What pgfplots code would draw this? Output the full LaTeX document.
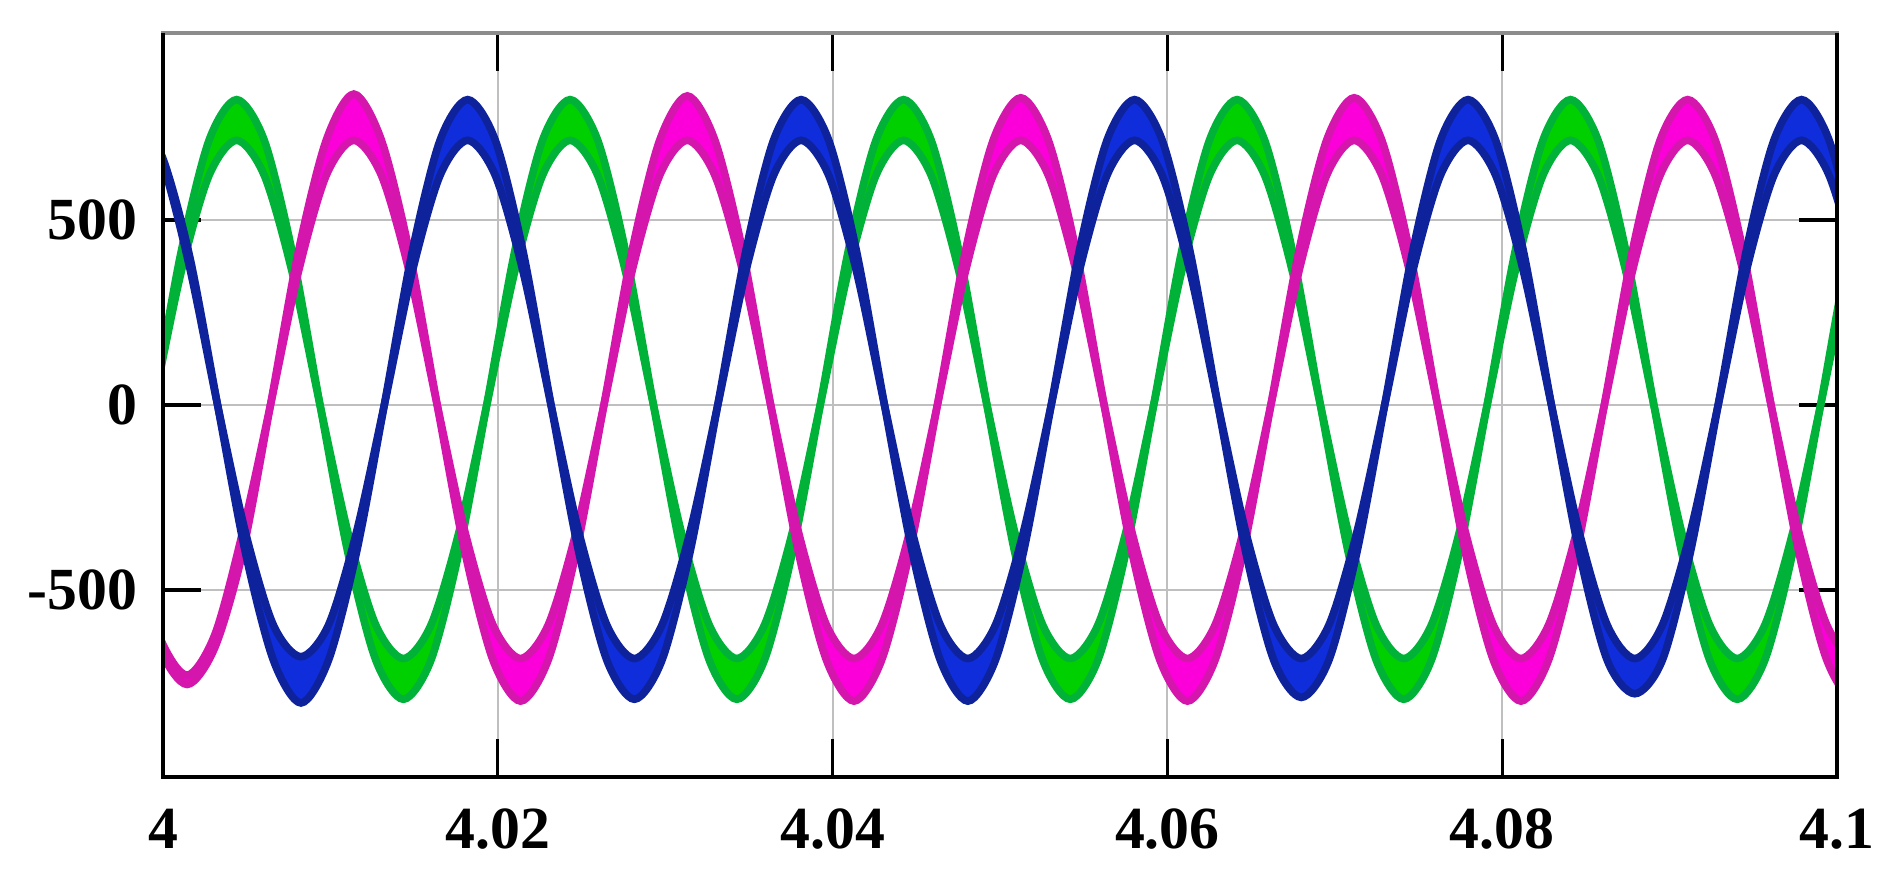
\documentclass[border=0pt]{standalone}
\usepackage{fontspec}
\setmainfont{Liberation Serif}
\usepackage{pgfplots}
\usepackage{pgfplotstable}
\pgfplotsset{compat=1.18}
\usepgfplotslibrary{fillbetween}

\definecolor{grnln}{RGB}{0,178,55}
\definecolor{grnfl}{RGB}{0,208,0}
\definecolor{magln}{RGB}{212,22,172}
\definecolor{magfl}{RGB}{252,0,218}
\definecolor{bluln}{RGB}{14,34,155}
\definecolor{blufl}{RGB}{15,45,218}

% t = time (s), a = outer edge of the noisy band, b = inner edge
\pgfplotstableread{
t a b
3.99776 -398 -343
3.99942 0 0
4.00108 413 358
4.00274 714 619
4.00440 825 715
4.00606 714 619
4.00772 413 358
4.00938 0 0
4.01104 -398 -343
4.01270 -688 -593
4.01436 -795 -685
4.01602 -688 -593
4.01768 -398 -343
4.01934 0 0
4.02100 413 358
4.02266 714 619
4.02432 825 715
4.02598 714 619
4.02764 413 358
4.02930 0 0
4.03096 -398 -343
4.03262 -688 -593
4.03428 -795 -685
4.03594 -688 -593
4.03760 -398 -343
4.03926 0 0
4.04092 413 358
4.04258 714 619
4.04424 825 715
4.04590 714 619
4.04756 413 358
4.04922 0 0
4.05088 -398 -343
4.05254 -688 -593
4.05420 -795 -685
4.05586 -688 -593
4.05752 -398 -343
4.05918 0 0
4.06084 413 358
4.06250 714 619
4.06416 825 715
4.06582 714 619
4.06748 413 358
4.06914 0 0
4.07080 -398 -343
4.07246 -688 -593
4.07412 -795 -685
4.07578 -688 -593
4.07744 -398 -343
4.07910 0 0
4.08076 413 358
4.08242 714 619
4.08408 825 715
4.08574 714 619
4.08740 413 358
4.08906 0 0
4.09072 -398 -343
4.09238 -688 -593
4.09404 -795 -685
4.09570 -688 -593
4.09736 -398 -343
4.09902 0 0
4.10068 413 358
4.10234 714 619
}\G

\pgfplotstableread{
t a b
3.99812 -398 -370
3.99978 -655 -625
4.00144 -755 -730
4.00310 -655 -620
4.00476 -398 -343
4.00642 0 0
4.00808 413 358
4.00974 714 619
4.01140 840 715
4.01306 714 619
4.01472 413 358
4.01638 0 0
4.01804 -398 -343
4.01970 -688 -593
4.02136 -800 -685
4.02302 -688 -593
4.02468 -398 -343
4.02634 0 0
4.02800 413 358
4.02966 714 619
4.03132 835 715
4.03298 714 619
4.03464 413 358
4.03630 0 0
4.03796 -398 -343
4.03962 -688 -593
4.04128 -800 -685
4.04294 -688 -593
4.04460 -398 -343
4.04626 0 0
4.04792 413 358
4.04958 714 619
4.05124 830 715
4.05290 714 619
4.05456 413 358
4.05622 0 0
4.05788 -398 -343
4.05954 -688 -593
4.06120 -800 -685
4.06286 -688 -593
4.06452 -398 -343
4.06618 0 0
4.06784 413 358
4.06950 714 619
4.07116 830 715
4.07282 714 619
4.07448 413 358
4.07614 0 0
4.07780 -398 -343
4.07946 -688 -593
4.08112 -800 -685
4.08278 -688 -593
4.08444 -398 -343
4.08610 0 0
4.08776 413 358
4.08942 714 619
4.09108 825 715
4.09274 714 619
4.09440 413 358
4.09606 0 0
4.09772 -398 -343
4.09938 -688 -593
4.10104 -795 -685
4.10270 -688 -593
}\M

\pgfplotstableread{
t a b
3.99828 775 760
3.99994 672 655
4.00160 400 370
4.00326 0 0
4.00492 -398 -343
4.00658 -688 -593
4.00824 -805 -680
4.00990 -688 -593
4.01156 -398 -343
4.01322 0 0
4.01488 413 358
4.01654 714 619
4.01820 825 715
4.01986 714 619
4.02152 413 358
4.02318 0 0
4.02484 -398 -343
4.02650 -688 -593
4.02816 -795 -685
4.02982 -688 -593
4.03148 -398 -343
4.03314 0 0
4.03480 413 358
4.03646 714 619
4.03812 825 715
4.03978 714 619
4.04144 413 358
4.04310 0 0
4.04476 -398 -343
4.04642 -688 -593
4.04808 -800 -685
4.04974 -688 -593
4.05140 -398 -343
4.05306 0 0
4.05472 413 358
4.05638 714 619
4.05804 825 715
4.05970 714 619
4.06136 413 358
4.06302 0 0
4.06468 -398 -343
4.06634 -688 -593
4.06800 -790 -685
4.06966 -688 -593
4.07132 -398 -343
4.07298 0 0
4.07464 413 358
4.07630 714 619
4.07796 825 715
4.07962 714 619
4.08128 413 358
4.08294 0 0
4.08460 -398 -343
4.08626 -688 -593
4.08792 -780 -685
4.08958 -688 -593
4.09124 -398 -343
4.09290 0 0
4.09456 413 358
4.09622 714 619
4.09788 825 715
4.09954 714 619
4.10120 413 358
4.10286 0 0
}\B

\begin{document}
\begin{tikzpicture}
\begin{axis}[
  at={(0,0)}, anchor=south west,
  scale only axis,
  width=418.5bp, height=186bp,
  xmin=4, xmax=4.1, ymin=-1005, ymax=1005,
  xtick={4,4.02,4.04,4.06,4.08,4.1},
  xticklabels={4,4.02,4.04,4.06,4.08,4.1},
  ytick={-500,0,500},
  yticklabels={-500,0,500},
  tick align=inside,
  major tick length=9.5bp,
  tick style={black, line width=0.8pt},
  grid=major,
  grid style={black!25, line width=0.5pt},
  axis line style={black!45, line width=0.9pt},
  ticklabel style={font=\fontsize{15}{18}\selectfont\bfseries},
  xticklabel style={yshift=-4.5bp},
  yticklabel style={xshift=-3bp},
]
% green phase
\addplot[name path=ga, draw=grnln, line width=1.9bp, smooth] table[x=t,y=a]{\G};
\addplot[name path=gb, draw=grnln, line width=1.9bp, smooth] table[x=t,y=b]{\G};
\addplot[grnfl] fill between[of=ga and gb];
% magenta phase
\addplot[name path=ma, draw=magln, line width=1.9bp, smooth] table[x=t,y=a]{\M};
\addplot[name path=mb, draw=magln, line width=1.9bp, smooth] table[x=t,y=b]{\M};
\addplot[magfl] fill between[of=ma and mb];
% blue phase
\addplot[name path=ba, draw=bluln, line width=1.9bp, smooth] table[x=t,y=a]{\B};
\addplot[name path=bb, draw=bluln, line width=1.9bp, smooth] table[x=t,y=b]{\B};
\addplot[blufl] fill between[of=ba and bb];
\end{axis}
% left, bottom and right edges of the frame are black, the top stays grey
\draw[black, line width=0.8pt] (current axis.north west) -- (current axis.south west)
  -- (current axis.south east) -- (current axis.north east);
\pgfresetboundingbox
\path ([shift={(-40.75bp,-28.75bp)}]current axis.south west) rectangle ([shift={(14.5bp,8.25bp)}]current axis.north east);
\end{tikzpicture}
\end{document}
